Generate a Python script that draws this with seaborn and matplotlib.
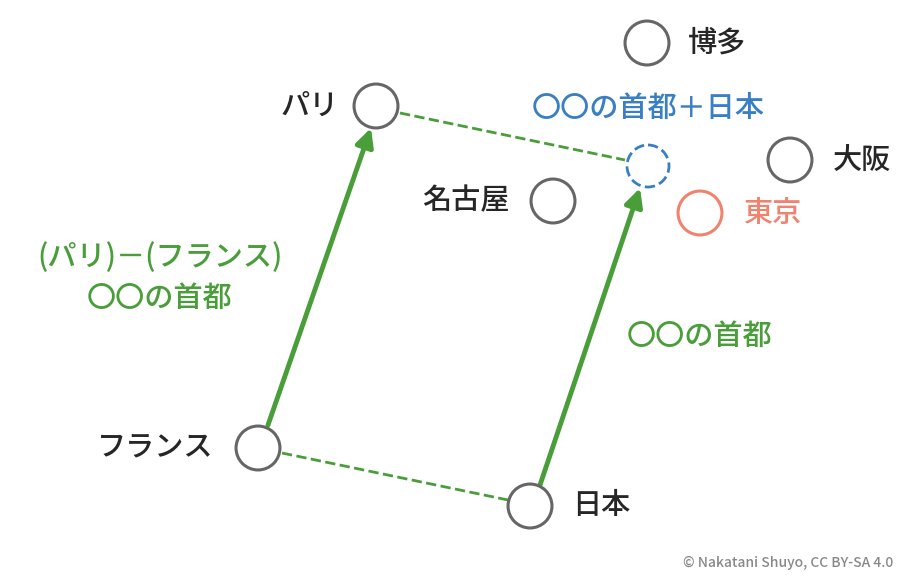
import matplotlib.pyplot as plt
import seaborn as sns
import pandas as pd

names = ["博多", "パリ", "大阪", "名古屋", "東京", "フランス", "日本"]
xs = [647, 376, 790, 553, 700, 258, 530]
ys = [43, 106, 160, 201, 213, 448, 506]
kinds = ["city", "city", "city", "city", "tokyo", "city", "city"]
target = (648, 166)

sns.set_theme(style="white")
plt.rcParams["font.family"] = ["Noto Sans CJK JP", "DejaVu Sans"]

fig = plt.figure(figsize=(9.11, 5.8), dpi=100)
ax = fig.add_axes([0, 0, 1, 1])
ax.set_xlim(0, 911)
ax.set_ylim(580, 0)
ax.axis("off")

green = "#4a9e3a"
blue = "#3a7fc4"
gray = "#666666"
salmon = "#f0826e"

# dashed connectors
ax.plot([400, 625], [113, 160], ls="--", color=green, lw=2)
ax.plot([282, 508], [453, 500], ls="--", color=green, lw=2)

# arrows
for (x0, y0), (x1, y1) in [((268, 425), (371, 128)), ((540, 485), (640, 188))]:
    ax.annotate("", xy=(x1, y1), xytext=(x0, y0),
                arrowprops=dict(arrowstyle="-|>,head_length=0.9,head_width=0.45",
                                color=green, lw=3.5, shrinkA=0, shrinkB=0))

df = pd.DataFrame({"x": xs, "y": ys, "kind": kinds})
sns.scatterplot(data=df, x="x", y="y", hue="kind",
                palette={"city": gray, "tokyo": salmon}, legend=False,
                s=1000, linewidth=2.2, ax=ax, zorder=3)
c = ax.collections[-1]
c.set_facecolor("white")
c.set_edgecolor([gray if k == "city" else salmon for k in kinds])
ax.add_patch(plt.Circle(target, 21, fill=False, ls="--", lw=2, color=blue, zorder=3))

fs = 21
kw = dict(fontsize=fs, va="center", ha="center", fontweight="medium")
ax.text(717, 43, "博多", **kw)
ax.text(310, 106, "パリ", **kw)
ax.text(862, 160, "大阪", **kw)
ax.text(466, 201, "名古屋", **kw)
ax.text(773, 213, "東京", color=salmon, **kw)
ax.text(155, 448, "フランス", **kw)
ax.text(601, 506, "日本", **kw)
ax.text(648, 108, "〇〇の首都＋日本", color=blue, **kw)
ax.text(160, 258, "(パリ)－(フランス)", color=green, **kw)
ax.text(160, 298, "〇〇の首都", color=green, **kw)
ax.text(700, 336, "〇〇の首都", color=green, **kw)
ax.text(893, 563, "© Nakatani Shuyo, CC BY-SA 4.0", fontsize=10, va="center",
        ha="right", color="#888888", fontweight="medium")

fig.savefig("out.png", dpi=100)
